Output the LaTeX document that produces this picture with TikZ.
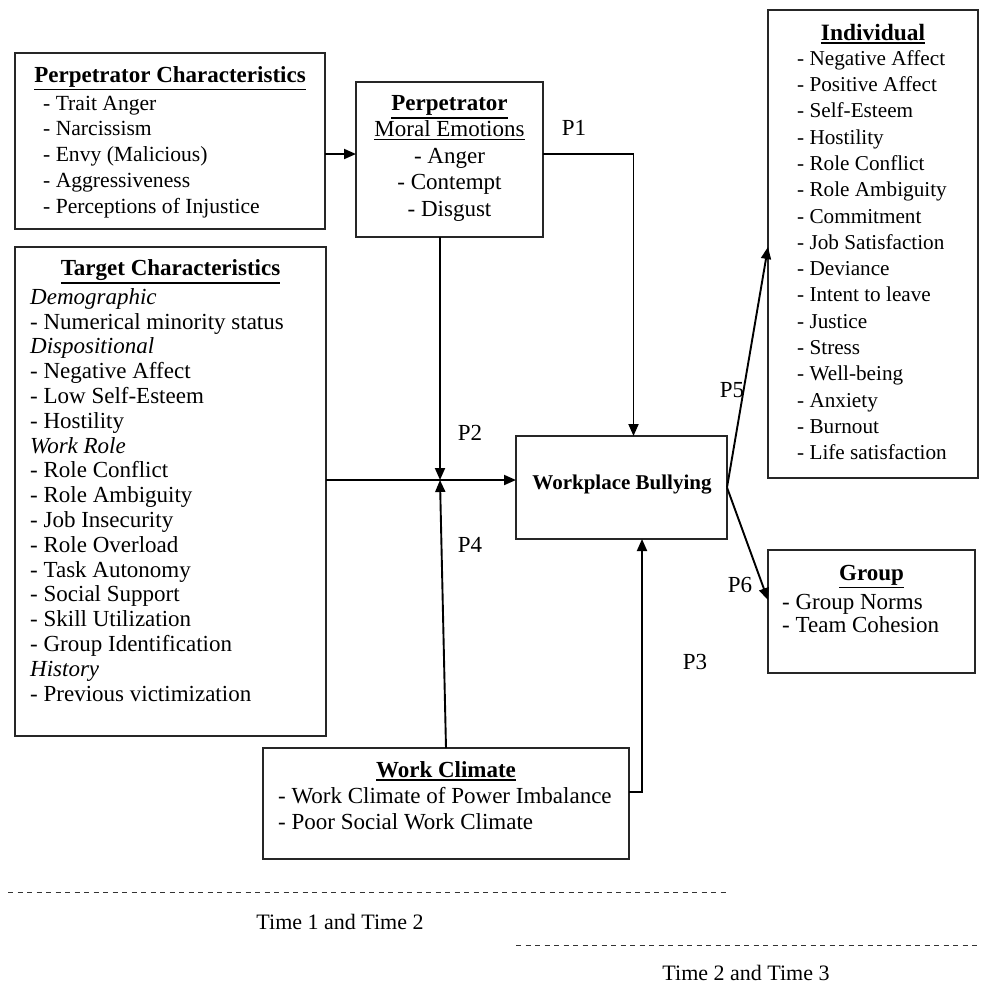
\documentclass[tikz,border=0pt]{standalone}
\usepackage{fontspec}
\setmainfont{Liberation Serif}
\usetikzlibrary{arrows.meta}
\newsavebox\ulbox
\newcommand\ulin[1]{\sbox\ulbox{#1}\rlap{\rule[\dimexpr-\dp\ulbox-3.5pt\relax]{\wd\ulbox}{1.6pt}}\usebox\ulbox}
\newcommand\fst{\rule{0pt}{16pt}}
\begin{document}
\begin{tikzpicture}[x=1pt,y=-1pt,
  box/.style={draw=black!85, line width=1.4pt, inner sep=0pt, outer sep=0pt},
  conn/.style={line width=1.9pt, draw=black},
  arr/.style={conn, -{Triangle[length=12pt,width=10pt]}},
  ttl/.style={font=\fontsize{23}{26}\selectfont\bfseries, inner sep=0pt, anchor=base},
  items/.style={inner sep=0pt, anchor=north west, align=left},
  lbl/.style={font=\fontsize{23}{26}\selectfont, inner sep=0pt},
  timeline/.style={line width=0.9pt, draw=black!80, dash pattern=on 5pt off 4.5pt},
  timetext/.style={font=\fontsize{22}{25}\selectfont, inner sep=0pt}
]
\useasboundingbox (0,0) rectangle (980,985);

% boxes
\node[box, minimum width=310pt, minimum height=176pt] (pc) at (170,141) {};
\node[box, minimum width=187pt, minimum height=155pt] (perp) at (449.5,159.5) {};
\node[box, minimum width=311pt, minimum height=489pt] (tc) at (170.5,491.5) {};
\node[box, minimum width=211pt, minimum height=103pt] (wb) at (621.5,487.5) {};
\node[box, minimum width=366pt, minimum height=111pt] (wc) at (446,803.5) {};
\node[box, minimum width=210pt, minimum height=468pt] (ind) at (873,244) {};
\node[box, minimum width=207pt, minimum height=123pt] (grp) at (871.5,611.5) {};

% texts
\node[ttl] (pct) at (170,82) {\ulin{Perpetrator Characteristics}};
\node[items, font=\fontsize{21.6}{25.75}\selectfont] (pci) at (43,94) {\fst- Trait Anger\\- Narcissism\\- Envy (Malicious)\\- Aggressiveness\\- Perceptions of Injustice};

\node[inner sep=0pt, anchor=north, align=center, font=\fontsize{23}{26.5}\selectfont] (perpt) at (449.5,94) {\fst\textbf{\ulin{Perpetrator}}\\\ulin{Moral Emotions}\\- Anger\\- Contempt\\- Disgust};

\node[ttl] (tct) at (170.5,275) {\ulin{Target Characteristics}};
\node[items, font=\fontsize{23}{24.8}\selectfont] (tci) at (30,288) {\fst\textit{Demographic}\\- Numerical minority status\\\textit{Dispositional}\\- Negative Affect\\- Low Self-Esteem\\- Hostility\\\textit{Work Role}\\- Role Conflict\\- Role Ambiguity\\- Job Insecurity\\- Role Overload\\- Task Autonomy\\- Social Support\\- Skill Utilization\\- Group Identification\\\textit{History}\\- Previous victimization};

\node[font=\fontsize{21}{24}\selectfont\bfseries, inner sep=0pt, anchor=base] (wbt) at (622,489) {Workplace Bullying};

\node[ttl] (wct) at (446,777) {\ulin{Work Climate}};
\node[items, font=\fontsize{23}{26.5}\selectfont] (wci) at (278,787) {\fst- Work Climate of Power Imbalance\\- Poor Social Work Climate};

\node[ttl, font=\fontsize{23.4}{26}\selectfont\bfseries] (indt) at (873,40) {\ulin{Individual}};
\node[items, font=\fontsize{21.2}{26.3}\selectfont] (indi) at (797,49) {\fst- Negative Affect\\- Positive Affect\\- Self-Esteem\\- Hostility\\- Role Conflict\\- Role Ambiguity\\- Commitment\\- Job Satisfaction\\- Deviance\\- Intent to leave\\- Justice\\- Stress\\- Well-being\\- Anxiety\\- Burnout\\- Life satisfaction};

\node[ttl] (grpt) at (871.5,580) {\ulin{Group}};
\node[items, font=\fontsize{23}{23.3}\selectfont] (grpi) at (782,593) {\fst- Group Norms\\- Team Cohesion};

% helper coordinates
\coordinate (y154) at (0,154);
\coordinate (p1x) at (633.5,0);
\coordinate (J) at (440,480);
\coordinate (y792) at (0,792);
\coordinate (p3x) at (642,0);
\coordinate (y247) at (0,247);
\coordinate (y600) at (0,600);

% connectors
\draw[arr] (pc.east |- y154) -- (perp.west |- y154);
\draw[arr] (perp.east |- y154) -| (p1x |- wb.north);
\draw[arr] (tc.east |- J) -- (wb.west |- J);
\draw[arr] (perp.south -| J) -- (J);
\draw[arr] (wc.north) -- (J);
\draw[arr] (wc.east |- y792) -| (p3x |- wb.south);
\draw[arr] (wb.east) -- (ind.west |- y247);
\draw[arr] (wb.east) -- (grp.west |- y600);

% labels
\node[lbl] (l1) at (574,128) {P1};
\node[lbl] (l2) at (470,433) {P2};
\node[lbl] (l4) at (470,545) {P4};
\node[lbl] (l3) at (695,662) {P3};
\node[lbl] (l5) at (732,390) {P5};
\node[lbl] (l6) at (740,585) {P6};

% time lines
\coordinate (t1a) at (8,892);
\coordinate (t1b) at (728,892);
\coordinate (t2a) at (516,945);
\coordinate (t2b) at (980,945);
\draw[timeline] (t1a) -- (t1b);
\draw[timeline] (t2a) -- (t2b);
\node[timetext] (tt1) at (340,922) {Time 1 and Time 2};
\node[timetext] (tt2) at (746,973) {Time 2 and Time 3};
\end{tikzpicture}
\end{document}
